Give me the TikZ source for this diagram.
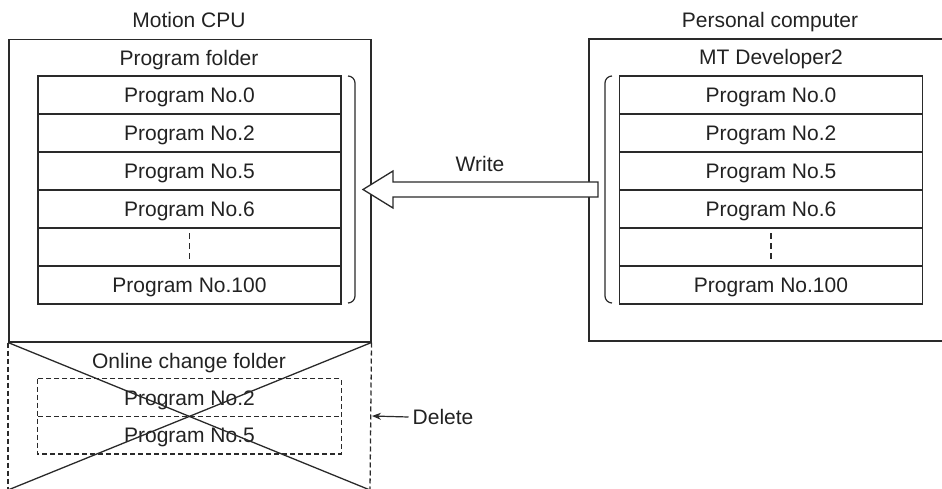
\documentclass[tikz,border=0pt]{standalone}
\usepackage{fontspec}
\setmainfont{Liberation Sans}
\usetikzlibrary{arrows.meta}
\definecolor{ln}{HTML}{2A2A2A}
\definecolor{tx}{HTML}{222222}
\begin{document}
\begin{tikzpicture}[x=1pt,y=-1pt,
  every node/.style={font=\fontsize{21}{25}\selectfont, text=tx, inner sep=0pt, text height=15pt, text depth=0pt},
  solidline/.style={draw=ln, line width=1.5pt},
  thinline/.style={draw=ln, line width=1.3pt},
  dashline/.style={draw=ln, line width=1.3pt, dash pattern=on 5pt off 3pt},
  rowbox/.style={thinline, minimum width=303pt, minimum height=38pt, anchor=center},
  dashrow/.style={minimum width=303pt, minimum height=37.5pt, anchor=center},
  brk/.style={draw=ln, line width=1.2pt, rounded corners=7pt}
]
\useasboundingbox (0,0) rectangle (942,489);

% ---------- Left: Motion CPU ----------
\node (cpuT) at (189,20.5) {Motion CPU};
\node[solidline, minimum width=362pt, minimum height=302pt, anchor=north west] (cpu) at (8,39) {};
\node (pf) at (189,58.5) {Program folder};
\node[rowbox] (l0) at (189.5,95) {Program No.0};
\node[rowbox] (l2) at (189.5,133) {Program No.2};
\node[rowbox] (l5) at (189.5,171) {Program No.5};
\node[rowbox] (l6) at (189.5,209) {Program No.6};
\node[rowbox] (ld) at (189.5,247) {};
\node[rowbox] (l100) at (189.5,285) {Program No.100};
\draw[ln, line width=1.1pt, dash pattern=on 6pt off 4pt] ([yshift=-6pt]ld.north) -- ([yshift=6pt]ld.south);
\draw[brk] (348,76) -- (355,76) -- (355,303) -- (348,303);

% ---------- Online change folder (deleted) ----------
\coordinate (bl) at (8,490);
\coordinate (br) at (370,490);
\draw[dashline] (cpu.south west) -- (bl);
\draw[dashline] (cpu.south east) -- (br);
\node (ocf) at (189,360.5) {Online change folder};
\node[dashrow] (o2) at (189.5,397.5) {Program No.2};
\node[dashrow] (o5) at (189.5,435) {Program No.5};
\draw[dashline] (o2.north west) rectangle (o5.south east);
\draw[dashline] (o2.south west) -- (o2.south east);
\draw[thinline] (cpu.south west) -- (br);
\draw[thinline] (cpu.south east) -- (bl);

% Delete arrow
\node[anchor=west] (del) at (412.5,416.5) {Delete};
\coordinate (delend) at (372,416);
\draw[ln, line width=1.2pt, -{Stealth[length=9pt,width=7pt]}] ([xshift=-4pt,yshift=-0.5pt]del.west) -- (delend);

% ---------- Right: Personal computer ----------
\node (pcT) at (770,20.5) {Personal computer};
\draw[solidline] (950,39) -- (589,39) -- (589,341) -- (950,341);
\coordinate (pc) at (589,190);
\node (mt) at (771,57.5) {MT Developer2};
\node[rowbox] (r0) at (771,95) {Program No.0};
\node[rowbox] (r2) at (771,133) {Program No.2};
\node[rowbox] (r5) at (771,171) {Program No.5};
\node[rowbox] (r6) at (771,209) {Program No.6};
\node[rowbox] (rd) at (771,247) {};
\node[rowbox] (r100) at (771,285) {Program No.100};
\draw[ln, line width=1.1pt, dash pattern=on 6pt off 4pt] ([yshift=-6pt]rd.north) -- ([yshift=6pt]rd.south);
\draw[brk] (612,76) -- (605,76) -- (605,303) -- (612,303);

% ---------- Write arrow ----------
\draw[thinline, fill=white, line join=miter]
  (598,182) -- (393,182) -- (393,171) -- (363,189.5) -- (393,208) -- (393,197) -- (598,197) -- cycle;
\node (wr) at (480,164) {Write};
\end{tikzpicture}
\end{document}
